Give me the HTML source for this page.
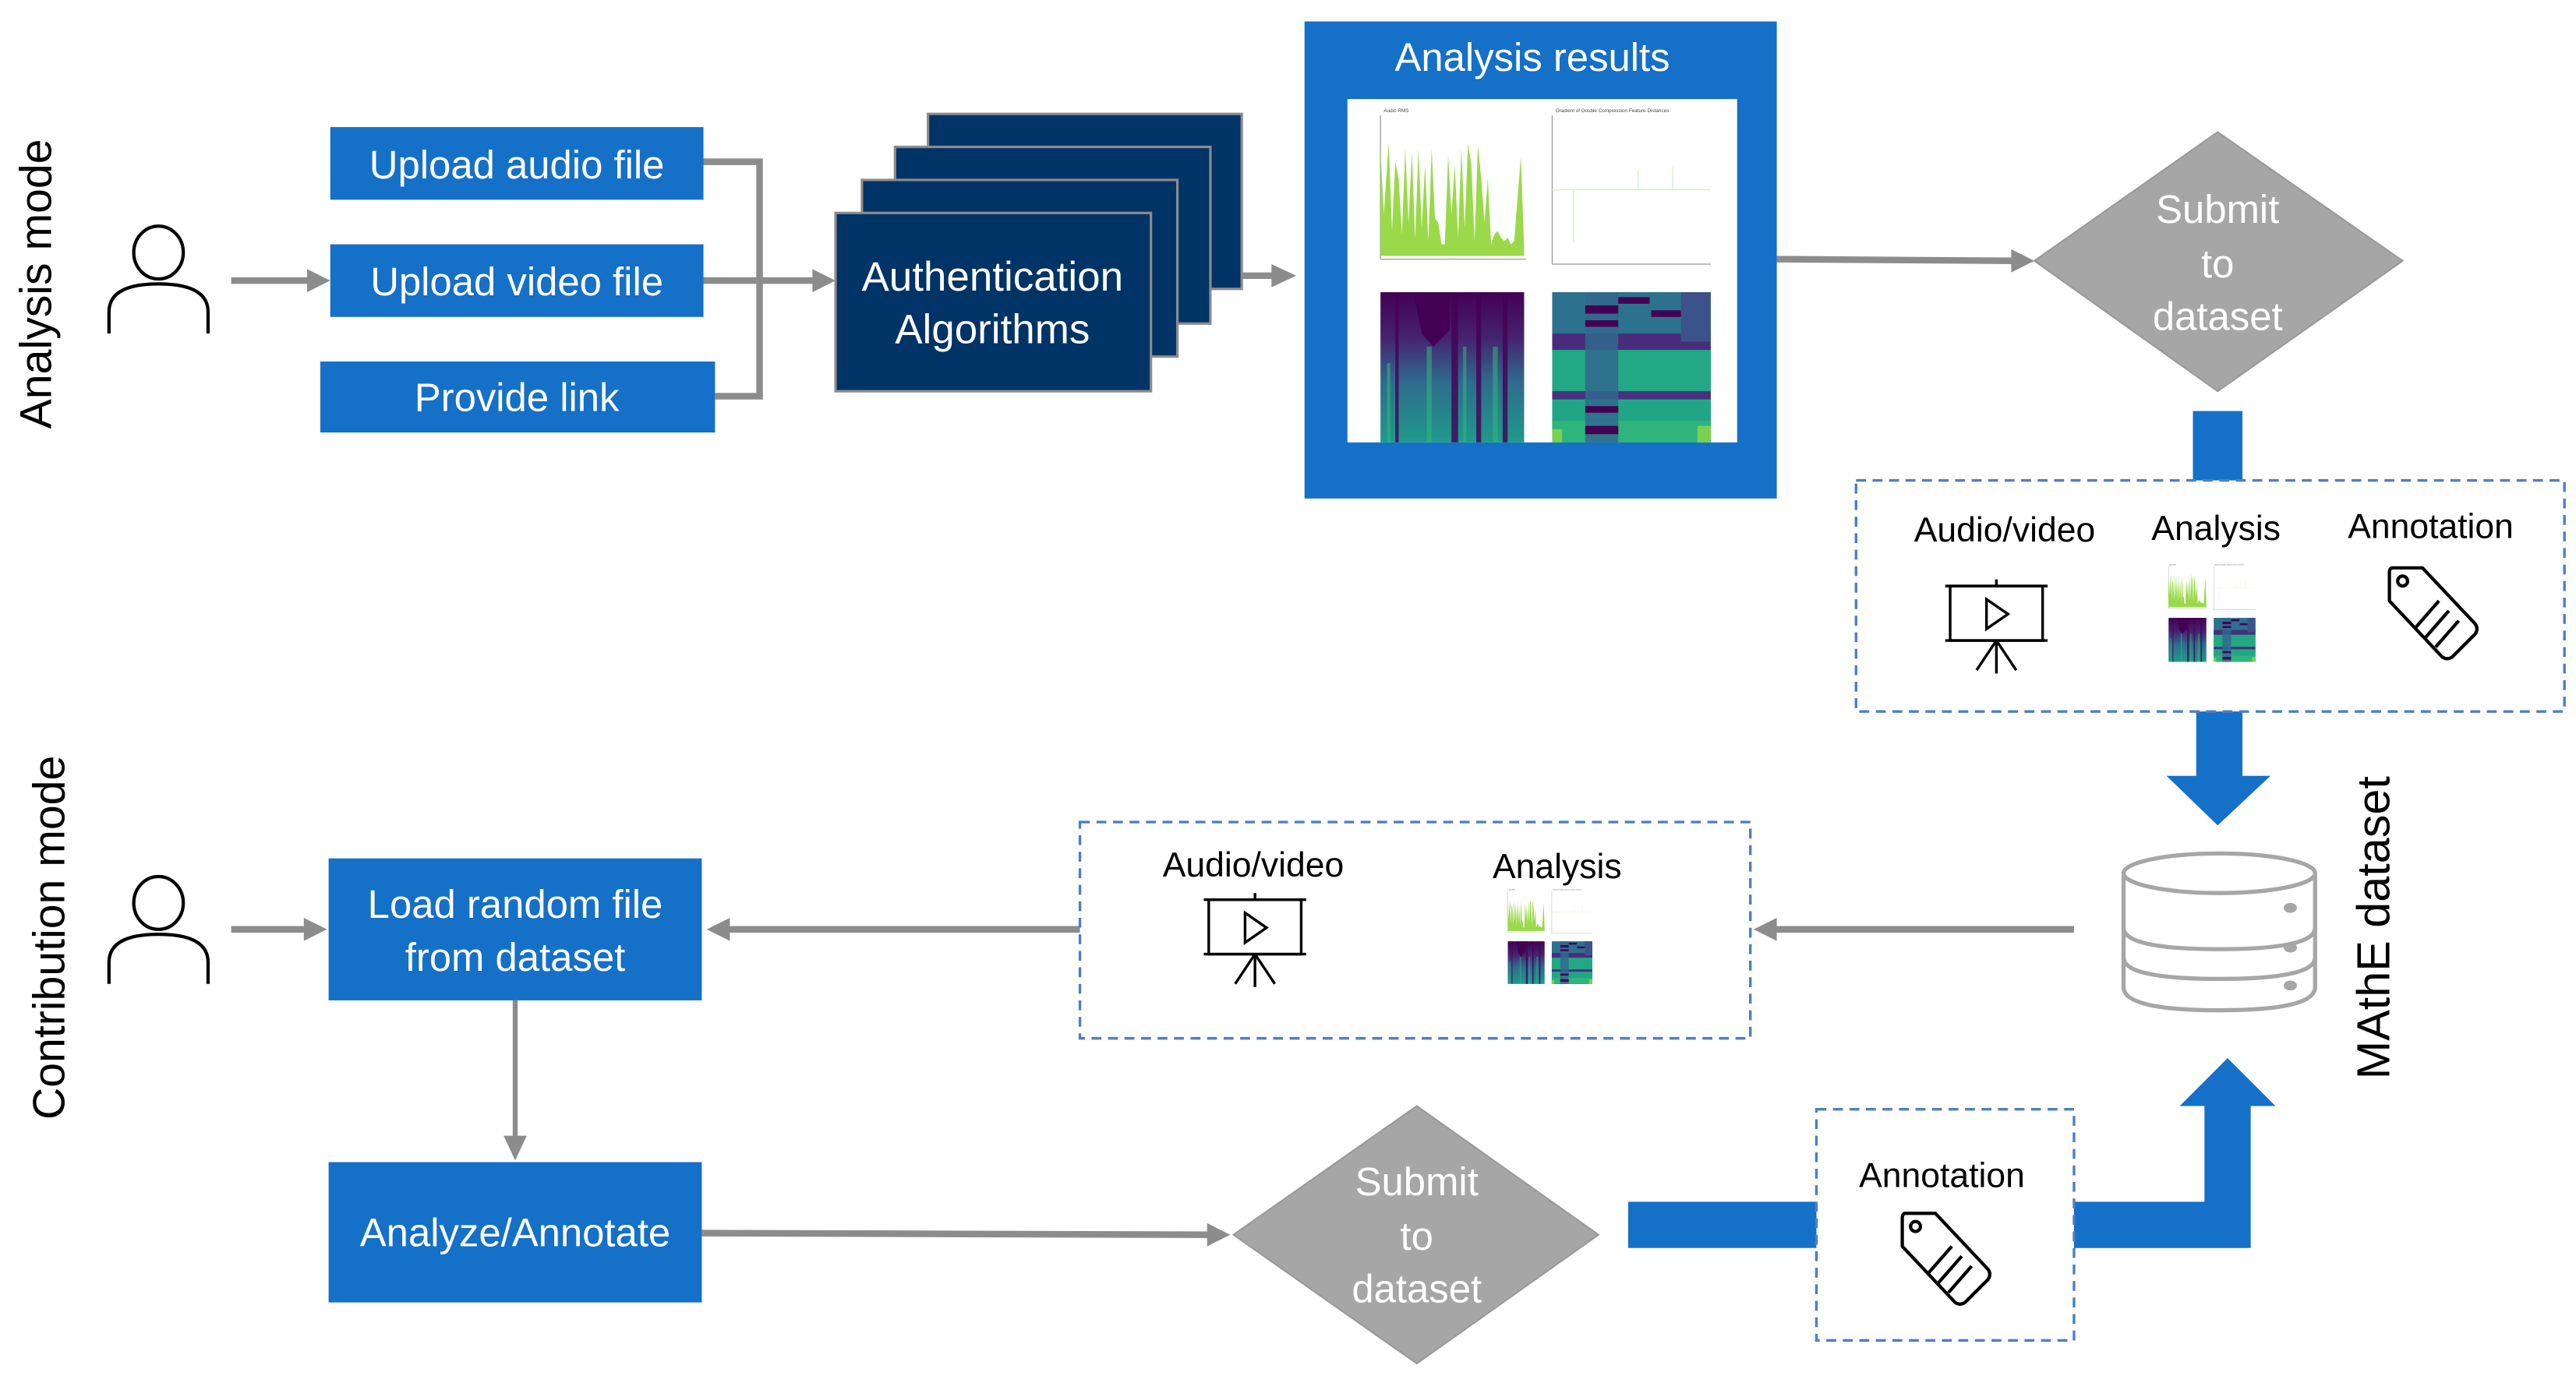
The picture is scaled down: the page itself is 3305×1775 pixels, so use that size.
<!DOCTYPE html>
<html><head><meta charset="utf-8"><style>
html,body{margin:0;padding:0;background:#fff;}
svg{display:block;}
text{font-family:"Liberation Sans",sans-serif;}
</style></head><body>
<svg width="3305" height="1775" viewBox="0 0 1560 837.8" preserveAspectRatio="none" xmlns="http://www.w3.org/2000/svg">
<defs>
<g id="plots">
  <rect x="0" y="0" width="236" height="208" fill="#fff"/>
  <line x1="20" y1="10" x2="20" y2="97" stroke="#999" stroke-width="0.6"/>
  <line x1="20" y1="97" x2="108" y2="97" stroke="#999" stroke-width="0.6"/>
  <polygon fill="#9ad94a" points="20,95 20,30 22,70 25,26 27,80 29,38 31,48 33,82 35,30 37,75 39,32 41,85 43,30 45,78 47,40 49,86 51,30 53,72 55,75 57,88 59,88 61,34 63,70 65,40 67,84 69,30 71,78 73,27 75,40 77,86 79,28 81,48 83,75 85,48 87,88 89,82 91,80 93,84 95,86 97,84 99,88 101,86 103,60 105,35 107,90 107,95"/>
  <text x="22" y="8" font-size="3" fill="#444">Audio RMS</text>
  <line x1="124" y1="10" x2="124" y2="100" stroke="#999" stroke-width="0.6"/>
  <line x1="124" y1="100" x2="220" y2="100" stroke="#999" stroke-width="0.6"/>
  <line x1="124" y1="55" x2="220" y2="55" stroke="#d8efc2" stroke-width="0.6"/>
  <line x1="137" y1="55" x2="137" y2="87" stroke="#d8efc2" stroke-width="0.6"/>
  <line x1="176" y1="55" x2="176" y2="43" stroke="#d8efc2" stroke-width="0.6"/>
  <line x1="197" y1="55" x2="197" y2="40" stroke="#d8efc2" stroke-width="0.6"/>
  <text x="126" y="8" font-size="3" fill="#444">Gradient of Double Compression Feature Distances</text>
  <linearGradient id="sg" x1="0" y1="0" x2="0" y2="1">
    <stop offset="0" stop-color="#440154"/><stop offset="0.3" stop-color="#45226e"/><stop offset="0.6" stop-color="#2e6b8e"/><stop offset="1" stop-color="#1f9a8a"/>
  </linearGradient>
  <rect x="20" y="117" width="87" height="91" fill="url(#sg)"/>
  <polygon points="40,117 62,117 62,140 52,150 45,142" fill="#440154"/>
  <g fill="#440154" opacity="0.8">
    <rect x="63" y="117" width="4" height="91"/><rect x="78" y="117" width="3" height="91"/><rect x="94" y="117" width="3" height="91"/><rect x="29" y="117" width="2" height="91"/>
  </g>
  <g fill="#35b779" opacity="0.55">
    <rect x="24" y="160" width="2" height="48"/><rect x="48" y="150" width="3" height="58"/><rect x="70" y="150" width="2" height="58"/><rect x="88" y="150" width="3" height="58"/>
  </g>
  <rect x="124" y="117" width="96" height="91" fill="#2c728e"/>
  <rect x="124" y="142" width="96" height="10" fill="#472d7b"/>
  <rect x="124" y="152" width="96" height="25" fill="#22a884"/>
  <rect x="124" y="177" width="96" height="5" fill="#46327e"/>
  <rect x="124" y="182" width="96" height="26" fill="#21a685"/>
  <rect x="124" y="195" width="96" height="13" fill="#2fb47c"/>
  <rect x="144" y="117" width="20" height="91" fill="#31688e" opacity="0.85"/>
  <rect x="144" y="125" width="20" height="5" fill="#440154"/><rect x="144" y="134" width="20" height="4" fill="#440154"/>
  <rect x="144" y="186" width="20" height="4" fill="#440154"/><rect x="144" y="198" width="20" height="5" fill="#440154"/>
  <rect x="164" y="120" width="19" height="4" fill="#440154"/>
  <rect x="184" y="128" width="18" height="4" fill="#440154"/>
  <rect x="202" y="117" width="18" height="30" fill="#3b528b"/>
  <rect x="124" y="200" width="6" height="8" fill="#7ad151"/><rect x="212" y="198" width="8" height="10" fill="#7ad151"/>
</g>
<g id="proj" fill="none" stroke="#000" stroke-width="1.6">
  <rect x="0" y="4" width="56" height="33"/>
  <line x1="-3" y1="4" x2="59" y2="4"/><line x1="-3" y1="37" x2="59" y2="37"/>
  <line x1="28" y1="0" x2="28" y2="4"/>
  <polygon points="22,12 22,30 35,21"/>
  <line x1="28" y1="37" x2="28" y2="57"/><line x1="28" y1="37" x2="16" y2="55"/><line x1="28" y1="37" x2="40" y2="55"/>
</g>
<g id="tag" fill="none" stroke="#000" stroke-width="2" stroke-linejoin="round">
  <path d="M4,2 L22,2 L54,36 Q56,39 54,42 L40,56 Q37,58 34,56 L2,22 L2,5 Q2,2 4,2 Z"/>
  <circle cx="10" cy="10" r="3"/>
  <line x1="32" y1="22" x2="18" y2="38"/><line x1="38" y1="28" x2="24" y2="44"/><line x1="44" y1="34" x2="30" y2="50"/>
</g>
<g id="person" fill="none" stroke="#000" stroke-width="2">
  <ellipse cx="30" cy="16" rx="15" ry="16"/>
  <path d="M0,65 L0,52 Q0,35 30,35 Q60,35 60,52 L60,65"/>
</g>
</defs>

<text transform="translate(31,172) rotate(-90)" text-anchor="middle" font-size="27" fill="#000">Analysis mode</text>
<text transform="translate(39,568) rotate(-90)" text-anchor="middle" font-size="27" fill="#000">Contribution mode</text>
<text transform="translate(1447,562) rotate(-90)" text-anchor="middle" font-size="28" fill="#000">MAthE dataset</text>

<use href="#person" x="66" y="137"/>
<use href="#person" x="66" y="531"/>

<g stroke="#8c8c8c" stroke-width="4" fill="#8c8c8c">
  <line x1="140" y1="170" x2="188" y2="170"/><polygon points="186,163 200,170 186,177" stroke="none"/>
  <polyline points="426,98 460,98 460,240 433,240" fill="none"/>
  <line x1="426" y1="170" x2="494" y2="170"/><polygon points="492,163 506,170 492,177" stroke="none"/>
  <line x1="733" y1="167" x2="772" y2="167"/><polygon points="770,160 785,167 770,174" stroke="none"/>
  <line x1="1076" y1="157" x2="1220" y2="158"/><polygon points="1218,151 1232,158 1218,165" stroke="none"/>
  <line x1="140" y1="563" x2="186" y2="563"/><polygon points="184,556 198,563 184,570" stroke="none"/>
  <line x1="654" y1="563" x2="440" y2="563"/><polygon points="442,556 428,563 442,570" stroke="none"/>
  <line x1="1256" y1="563" x2="1074" y2="563"/><polygon points="1076,556 1062,563 1076,570" stroke="none"/>
  <line x1="312" y1="606" x2="312" y2="690" stroke-width="3"/><polygon points="305,688 312,703 319,688" stroke="none"/>
  <line x1="425" y1="747" x2="733" y2="748"/><polygon points="731,741 745,748 731,755" stroke="none"/>
</g>

<g fill="#1570c8">
  <rect x="200" y="77" width="226" height="44"/>
  <rect x="200" y="148" width="226" height="44"/>
  <rect x="194" y="219" width="239" height="43"/>
  <rect x="199" y="520" width="226" height="86"/>
  <rect x="199" y="704" width="226" height="85"/>
</g>
<g fill="#fff" font-size="24" text-anchor="middle">
  <text x="313" y="108">Upload audio file</text>
  <text x="313" y="179">Upload video file</text>
  <text x="313" y="249">Provide link</text>
  <text x="312" y="556">Load random file</text>
  <text x="312" y="588">from dataset</text>
  <text x="312" y="755">Analyze/Annotate</text>
</g>

<g fill="#003366" stroke="#8c8c8c" stroke-width="1.5">
  <rect x="562" y="69" width="190" height="106"/>
  <rect x="542" y="89" width="191" height="107"/>
  <rect x="522" y="109" width="191" height="107"/>
  <rect x="506" y="129" width="191" height="108"/>
</g>
<text x="601" y="176" fill="#fff" font-size="25" text-anchor="middle">Authentication</text>
<text x="601" y="208" fill="#fff" font-size="25" text-anchor="middle">Algorithms</text>

<rect x="790" y="13" width="286" height="289" fill="#1570c8"/>
<text x="928" y="43" fill="#fff" font-size="24" text-anchor="middle">Analysis results</text>
<use href="#plots" x="816" y="60"/>

<polygon points="1343,80 1455,158 1343,237 1232,158" fill="#a6a6a6" stroke="#999" stroke-width="1"/>
<g fill="#fff" font-size="24" text-anchor="middle">
  <text x="1343" y="135">Submit</text><text x="1343" y="168">to</text><text x="1343" y="200">dataset</text>
</g>
<polygon points="858,670 968,748 858,826 747,748" fill="#a6a6a6" stroke="#999" stroke-width="1"/>
<g fill="#fff" font-size="24" text-anchor="middle">
  <text x="858" y="724">Submit</text><text x="858" y="757">to</text><text x="858" y="789">dataset</text>
</g>

<g fill="#1570c8">
  <rect x="1328" y="249" width="30" height="42"/>
  <polygon points="1330,431 1358,431 1358,470 1375,470 1343,500 1312,470 1330,470"/>
  <rect x="986" y="728" width="114" height="28"/>
  <polygon points="1256,728 1335,728 1335,670 1320,670 1349,641 1378,670 1363,670 1363,756 1256,756"/>
</g>

<g fill="none" stroke="#4f7fc0" stroke-width="1.6" stroke-dasharray="6,4">
  <rect x="1124" y="291" width="429" height="140"/>
  <rect x="654" y="498" width="406" height="131"/>
  <rect x="1100" y="672" width="156" height="140"/>
</g>
<g fill="#000" font-size="21" text-anchor="middle">
  <text x="1214" y="328">Audio/video</text>
  <text x="1342" y="327">Analysis</text>
  <text x="1472" y="326">Annotation</text>
  <text x="759" y="531">Audio/video</text>
  <text x="943" y="532">Analysis</text>
  <text x="1176" y="719">Annotation</text>
</g>
<use href="#proj" x="1181" y="351"/>
<use href="#proj" x="732" y="541"/>
<use href="#plots" transform="translate(1308,340) scale(0.263,0.293)"/>
<use href="#plots" transform="translate(908,537) scale(0.256,0.284)"/>
<use href="#tag" x="1445" y="342"/>
<use href="#tag" x="1150" y="733"/>

<g fill="#fff" stroke="#a6a6a6" stroke-width="2.5">
  <path d="M1286,530 L1286,598 Q1286,612 1344,612 Q1402,612 1402,598 L1402,530"/>
  <path d="M1286,562 Q1286,575 1344,575 Q1402,575 1402,562" fill="none"/>
  <path d="M1286,580 Q1286,593 1344,593 Q1402,593 1402,580" fill="none"/>
  <ellipse cx="1344" cy="529" rx="58" ry="12"/>
</g>
<g fill="#a6a6a6"><ellipse cx="1387" cy="550" rx="4" ry="3"/><ellipse cx="1387" cy="574" rx="4" ry="3"/><ellipse cx="1387" cy="597" rx="4" ry="3"/></g>
</svg>
</body></html>
